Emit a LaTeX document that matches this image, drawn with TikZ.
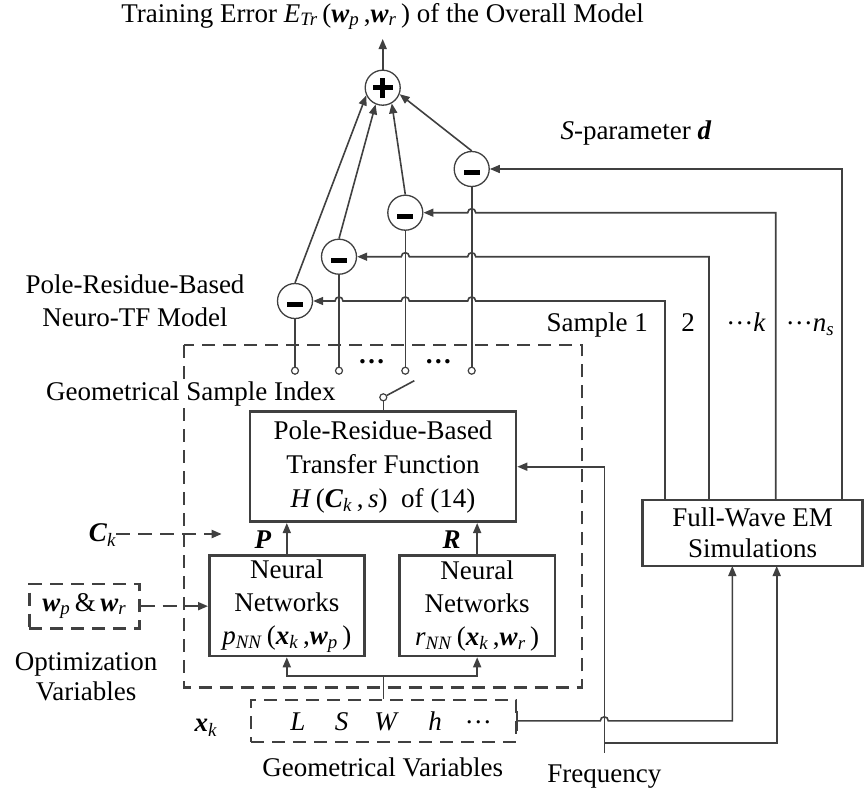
\documentclass[tikz,border=0pt]{standalone}
\usepackage{fontspec}
\setmainfont{Liberation Serif}
\usetikzlibrary{arrows.meta}
\definecolor{ln}{RGB}{64,64,64}
% bold-italic vectors, italic subscripts and centred dots
\newcommand\vb[1]{\textbf{\textit{#1}}}
\newcommand\sbi[1]{\textsubscript{\textit{#1}}}
\newcommand\cdts{\raisebox{7pt}{…}}

\begin{document}
\begin{tikzpicture}[x=1pt,y=-1pt,
  every node/.style={font=\fontsize{27}{34}\selectfont, inner sep=0pt},
  conn/.style={draw=ln, line width=1.6pt},
  arr/.style={conn, -{Triangle[length=10pt,width=8pt]}},
  darr/.style={arr, line width=2pt, dash pattern=on 14pt off 8pt},
  blk/.style={draw=ln, line width=2.6pt, align=center},
  dbox/.style={draw=ln, line width=2.4pt, dash pattern=on 13pt off 8pt},
  sum/.style={circle, draw=ln, line width=1.3pt, minimum size=35pt, fill=white},
  minus/.style={sum, path picture={\fill[black]
      ([xshift=-8pt,yshift=-6pt]path picture bounding box.center) rectangle
      ([xshift=8pt,yshift=-1pt]path picture bounding box.center);}},
  plus/.style={sum, path picture={\fill[black]
      ([xshift=-10pt,yshift=-2.4pt]path picture bounding box.center) rectangle
      ([xshift=10pt,yshift=2.4pt]path picture bounding box.center);
      \fill[black]
      ([xshift=-2.4pt,yshift=-10pt]path picture bounding box.center) rectangle
      ([xshift=2.4pt,yshift=10pt]path picture bounding box.center);}},
  term/.style={circle, draw=ln, line width=1.2pt, minimum size=7pt, fill=white},
  % line hops over a crossing line (leftward and rightward travel)
  jmpl/.style 2 args={insert path={-- ({#1+4},#2) .. controls ({#1+4},{#2-5.3}) and ({#1-4},{#2-5.3}) .. ({#1-4},#2)}},
  jmpr/.style 2 args={insert path={-- ({#1-4},#2) .. controls ({#1-4},{#2-5.3}) and ({#1+4},{#2-5.3}) .. ({#1+4},#2)}},
]
\useasboundingbox (0,0) rectangle (864,796);

% ---- summation of the sample errors
\node[plus] (sum) at (382.7,87.7) {};
\node[anchor=base] (title) at (382.7,22)
  {Training Error \textit{E}\sbi{Tr}\,(\vb{w}\sbi{p}\,,\vb{w}\sbi{r}\,) of the Overall Model};
\coordinate (errout) at (382.7,39);
\draw[arr] (sum.north) -- (errout);

\node[minus] (m1) at (295,301) {};
\node[minus] (m2) at (339,256.7) {};
\node[minus] (m3) at (405.3,212.7) {};
\node[minus] (m4) at (471.7,169) {};

\draw[arr] (m1.north) -- (sum.205);
\draw[arr] (m2.north) -- (sum.247);
\draw[arr] (m3.north) -- (sum.300);
\draw[arr] (m4.north) -- (sum.339);

\node[align=center, font=\fontsize{27}{33}\selectfont] (ptfm) at (135,301)
  {Pole-Residue-Based\\Neuro-TF Model};

% ---- neuro-TF model region
\draw[dbox] (184,345) rectangle (581.7,687.3);

\node[term] (t1) at (295,370.7) {};
\node[term] (t2) at (339,370.7) {};
\node[term] (t3) at (405.3,370.7) {};
\node[term] (t4) at (471.7,370.7) {};
\node (dots1) at (371.7,362) {\textbf{…}};
\node (dots2) at (438.3,362) {\textbf{…}};

\draw[conn] (t1) -- (m1);
\draw[conn] (t2) -- (m2);
\draw[conn] (t3) -- (m3);
\draw[conn] (t4) -- (m4);

\node[anchor=base, fill=white, inner xsep=1pt, inner ysep=2pt] (gsi) at (190.8,400)
  {Geometrical Sample Index};

\node[blk, minimum width=266pt, minimum height=110pt] (tf) at (383,466.7)
  {Pole-Residue-Based\\Transfer Function\\\textit{H}\,(\vb{C}\sbi{k}\,,\,\textit{s})\ \ of (14)};

% sample selector switch
\node[term] (sw) at (383.3,397.3) {};
\coordinate (swtip) at (414.3,380.7);
\draw[conn] (sw) -- (swtip);
\draw[conn] (sw.south) -- (sw.south |- tf.north);

\node[blk, minimum width=155pt, minimum height=100.3pt,
      font=\fontsize{27}{33}\selectfont] (nnp) at (286.8,605.85)
  {Neural\\Networks\\\textit{p}\sbi{NN}\,(\vb{x}\sbi{k}\,,\vb{w}\sbi{p}\,)};
\node[blk, minimum width=155.7pt, minimum height=100.3pt,
      font=\fontsize{27}{33}\selectfont] (nnr) at (477.15,605.85)
  {Neural\\Networks\\\textit{r}\sbi{NN}\,(\vb{x}\sbi{k}\,,\vb{w}\sbi{r}\,)};

\draw[arr] (nnp.north) -- (nnp.north |- tf.south);
\draw[arr] (nnr.north) -- (nnr.north |- tf.south);
\node[anchor=base] (lp) at (263,548) {\vb{P}};
\node[anchor=base] (lr) at (451.7,548) {\vb{R}};

% ---- inputs on the left
\node[anchor=base] (ck) at (102.5,541.7) {\vb{C}\sbi{k}};
\coordinate (ckend) at (221.7,534);
\draw[darr] (ck.east |- ckend) -- (ckend);

\node[dbox, minimum width=110pt, minimum height=44.3pt] (wbox) at (84.3,606.15)
  {\vb{w}\sbi{p}\,\&\,\vb{w}\sbi{r}};
\draw[darr] (wbox.east) -- (wbox.east -| nnp.west);
\node[align=center, font=\fontsize{27}{30}\selectfont] (optv) at (86,677)
  {Optimization\\Variables};

% ---- geometrical variables
\node[dbox, minimum width=265pt, minimum height=41.7pt] (xk) at (383.5,720.85) {};
\draw[ln, line width=2.4pt] ([yshift=10pt]xk.east) -- ([yshift=-10pt]xk.east);
\node[anchor=base] (xkl) at (206,731.7) {\vb{x}\sbi{k}};
\node[anchor=base] (vL) at (298,730) {\textit{L}};
\node[anchor=base] (vS) at (341.7,730) {\textit{S}};
\node[anchor=base] (vW) at (386.7,730) {\textit{W}};
\node[anchor=base] (vh) at (435,730) {\textit{h}};
\node[anchor=base] (vd) at (478.3,730) {\cdts};
\node[anchor=base] (gv) at (382.8,776.7) {Geometrical Variables};

\coordinate (split) at (383.3,676);
\draw[conn] (xk.north -| split) -- (split);
\draw[arr] (split) -| (nnp.south);
\draw[arr] (split) -| (nnr.south);

% ---- full-wave EM simulations
\node[blk, minimum width=220pt, minimum height=66pt,
      font=\fontsize{27}{31}\selectfont] (fw) at (752.7,533)
  {Full-Wave EM\\Simulations};

\coordinate (f1) at (665,500);
\coordinate (f2) at (709,500);
\coordinate (f3) at (775.7,500);
\coordinate (f4) at (841.7,500);
\coordinate (fin1) at (732.3,566);
\coordinate (fin2) at (776.7,566);

\draw[arr] (f1) -- (665,301) [jmpl={471.7}{301}] [jmpl={405.3}{301}] [jmpl={339}{301}] -- (m1.east);
\draw[arr] (f2) -- (709,256.7) [jmpl={471.7}{256.7}] [jmpl={405.3}{256.7}] -- (m2.east);
\draw[arr] (f3) -- (775.7,212.7) [jmpl={471.7}{212.7}] -- (m3.east);
\draw[arr] (f4) |- (m4.east);

\node[anchor=base] (sp) at (636,139) {\textit{S}-parameter \vb{d}};
\node[anchor=base] (s1) at (597.3,331.7) {Sample 1};
\node[anchor=base] (s2) at (688,331.7) {2};
\node[anchor=base] (sk) at (746,331.7) {\cdts\textit{k}};
\node[anchor=base] (sn) at (810,331.7) {\cdts\textit{n}\sbi{s}};

% ---- frequency input
\node[anchor=base] (freq) at (604.3,782.7) {Frequency};
\coordinate (fq) at (604.3,752.7);
\coordinate (fqb) at (604.3,742.7);
\draw[arr] (fq) |- (tf.east);
\draw[arr] (fqb) -| (fin2);
\draw[arr] (xk.east) [jmpr={604.3}{720.85}] -| (fin1);
\end{tikzpicture}
\end{document}
